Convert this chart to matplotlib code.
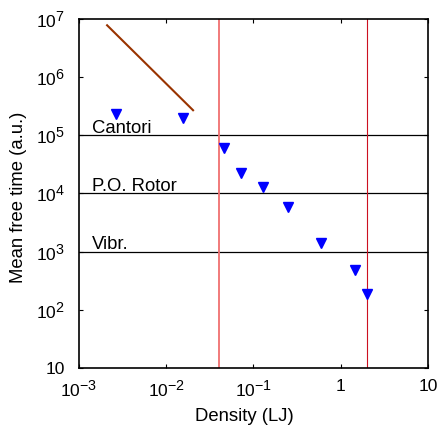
"""
Mean free time vs density, log-log.
"""

import matplotlib
matplotlib.use("Agg")
import matplotlib.pyplot as plt
import matplotlib._mathtext as mt

plt.rcParams['font.family'] = ['Liberation Sans', 'DejaVu Sans']
plt.rcParams['mathtext.fontset'] = 'custom'
plt.rcParams['mathtext.rm'] = 'Liberation Sans'
plt.rcParams['mathtext.it'] = 'Liberation Sans:italic'
# exponents in the original are nearly full size
mt.SHRINK_FACTOR = 0.82

# data
density = [0.00265, 0.0156, 0.0459, 0.0725, 0.127, 0.249, 0.589, 1.47, 2.0]
mean_free_time = [2.3e5, 1.98e5, 6.15e4, 2.26e4, 1.27e4, 5.77e3, 1.42e3, 483, 190]

slope_x = [0.0021, 0.0203]
slope_y = [7.8e6, 2.7e5]

regime_names = ["Cantori", "P.O. Rotor", "Vibr."]
regime_levels = [1e5, 1e4, 1e3]

vline_low = 0.04
vline_high = 2.0

x_ticks = [1e-3, 1e-2, 1e-1, 1, 10]
x_labels = [r"$10^{-3}$", r"$10^{-2}$", r"$10^{-1}$", "1", "10"]
y_ticks = [10, 1e2, 1e3, 1e4, 1e5, 1e6, 1e7]
y_labels = ["10", r"$10^{2}$", r"$10^{3}$", r"$10^{4}$", r"$10^{5}$", r"$10^{6}$", r"$10^{7}$"]

fig = plt.figure(figsize=(4.4, 4.26), dpi=100)
ax = fig.add_axes([0.1795, 0.1362, 0.7932, 0.8192])

for lvl, name in zip(regime_levels, regime_names):
    ax.axhline(lvl, color='black', lw=0.9)
    ax.text(1.41e-3, lvl * 1.1, name, fontsize=13.3, va='baseline', ha='left')

ax.axvline(vline_low, color='#f07070', lw=1.3)
ax.axvline(vline_high, color='#cc1020', lw=0.8)

ax.plot(slope_x, slope_y, color='#993300', lw=1.5)
ax.plot(density, mean_free_time, linestyle='none', marker='v', color='#0000ff', ms=7)

ax.set_xscale('log')
ax.set_yscale('log')
ax.set_xlim(1e-3, 10)
ax.set_ylim(10, 1e7)
ax.set_xticks(x_ticks)
ax.set_xticklabels(x_labels)
ax.set_yticks(y_ticks)
ax.set_yticklabels(y_labels)
ax.minorticks_off()
ax.tick_params(direction='in', length=3, width=0.8, top=True, right=True, labelsize=12.5)
ax.tick_params(axis='x', pad=8)
ax.tick_params(axis='y', pad=10)
for s in ax.spines.values():
    s.set_linewidth(1.2)

ax.set_xlabel("Density (LJ)", fontsize=13.3)
ax.set_ylabel("Mean free time (a.u.)", fontsize=13.3)
ax.xaxis.set_label_coords(0.473, -0.115)
ax.yaxis.set_label_coords(-0.15, 0.49)

fig.savefig("out.png", dpi=100)
